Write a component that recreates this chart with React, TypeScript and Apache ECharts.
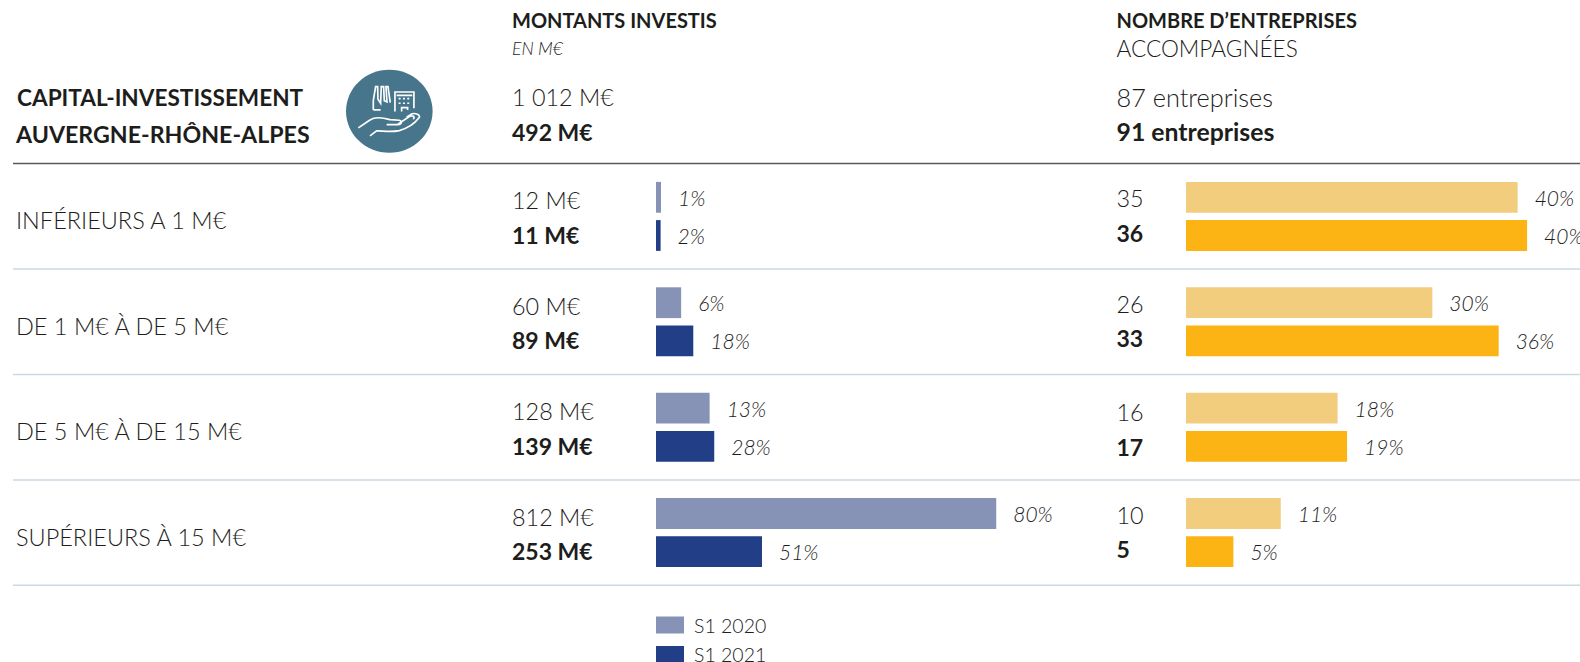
import React, { useEffect, useRef } from "react";
import * as echarts from "echarts";

const categories = ["INFÉRIEURS A 1 M€", "DE 1 M€ À DE 5 M€", "DE 5 M€ À DE 15 M€", "SUPÉRIEURS À 15 M€"];
const seriesNames = ["S1 2020", "S1 2021"];
const amount2020 = [12, 60, 128, 812];
const amount2021 = [11, 89, 139, 253];
const amountPct2020 = ["1%", "6%", "13%", "80%"];
const amountPct2021 = ["2%", "18%", "28%", "51%"];
const count2020 = [35, 26, 16, 10];
const count2021 = [36, 33, 17, 5];
const countPct2020 = ["40%", "30%", "18%", "11%"];
const countPct2021 = ["40%", "36%", "19%", "5%"];
const amountTexts2020 = ["12 M€", "60 M€", "128 M€", "812 M€"];
const amountTexts2021 = ["11 M€", "89 M€", "139 M€", "253 M€"];

const FONT = "Lato";
const DARK = "#1d1d1b";
const C = { a0: "#8693b6", a1: "#213e86", b0: "#f1cd7d", b1: "#fbb413" };

const ROW_TOP = 163.7;
const ROW_H = 105.4;
const rowMid = (i: number) => ROW_TOP + ROW_H * (i + 0.5);
const countNudge = [-1, -1, 2, -1];

const iconPath =
  "M100 150 L100 122 L107 80 L113 80 L114 118 L122 130 L124 80 L131 80 L133 122 L141 126 L138 80 L144 80 L151 128 " +
  "M100 150 L122 150 M165 155 L165 96 L222 96 L222 145 M170 106 L217 106 " +
  "M176 116 L182 116 M189 116 L195 116 M202 116 L208 116 M176 130 L182 130 M189 130 L195 130 M202 130 L208 130 " +
  "M185 155 L185 143 L203 143 L203 150 " +
  "M55 204 L90 180 C105 170 125 172 150 179 L178 181 C188 183 186 195 172 194 L140 194 " +
  "M172 194 L205 172 C215 165 228 168 220 178 M200 172 L215 162 C225 158 243 165 238 173 C225 190 205 205 178 212 C150 218 125 212 110 213 L90 228";

function text(x: number, y: number, t: string, size: number, o: any = {}) {
  return {
    type: "text",
    x,
    y,
    silent: true,
    style: {
      text: t,
      fontFamily: FONT,
      fontSize: size,
      fontWeight: o.bold ? 700 : 300,
      fontStyle: o.italic ? "italic" : "normal",
      fill: DARK,
      align: "left",
      verticalAlign: "middle",
    },
  };
}

const barSeries = (name: string, axis: number, values: number[], pct: string[], color: string) => ({
  type: "bar",
  name,
  xAxisIndex: axis,
  yAxisIndex: axis,
  data: values,
  barWidth: 30.8,
  barGap: "24%",
  itemStyle: { color },
  label: {
    show: true,
    position: "right",
    distance: 17,
    formatter: (p: any) => pct[p.dataIndex],
    fontFamily: FONT,
    fontSize: 21,
    fontWeight: 300,
    fontStyle: "italic",
    color: DARK,
  },
});

const legendFor = (name: string, top: number) => ({
  data: [{ name, icon: "rect" }],
  orient: "vertical",
  left: 656,
  top,
  padding: 0,
  itemWidth: 28,
  itemHeight: 17,
  selectedMode: false,
  textStyle: { fontFamily: FONT, fontSize: 19.5, lineHeight: 17, fontWeight: 300, color: DARK, padding: [0, 0, 0, 5] },
});

const valueAxis = (grid: number, max: number) => ({ type: "value", gridIndex: grid, min: 0, max, show: false });
const catAxis = (grid: number, show: boolean) => ({
  type: "category",
  gridIndex: grid,
  data: categories,
  inverse: true,
  axisLine: { show: false },
  axisTick: { show: false },
  splitLine: { show: false },
  axisLabel: show
    ? { show: true, margin: 640, align: "left", verticalAlign: "top", lineHeight: 8, fontFamily: FONT, fontWeight: 300, fontSize: 23.5, color: DARK }
    : { show: false },
});

export default function App() {
  const ref = useRef<HTMLDivElement>(null);
  useEffect(() => {
    echarts.graphic.registerShape("capitalIcon", echarts.graphic.extendPath(iconPath, {}));
    const chart = echarts.init(ref.current!, null, { renderer: "svg" });
    const elements: any[] = [
      { type: "line", shape: { x1: 13, y1: 163.5, x2: 1580, y2: 163.5 }, style: { stroke: "#58585a", lineWidth: 1.5 } },
      ...categories.map((_, i) => ({
        type: "line",
        shape: { x1: 13, y1: ROW_TOP + ROW_H * (i + 1), x2: 1580, y2: ROW_TOP + ROW_H * (i + 1) },
        style: { stroke: "#cbd9e2", lineWidth: 1.5 },
      })),
      { type: "ellipse", shape: { cx: 389.3, cy: 111.3, rx: 43.3, ry: 41.5 }, style: { fill: "#47768c" } },
      { type: "capitalIcon", x: 340, y: 60, scaleX: 1 / 3, scaleY: 1 / 3, style: { fill: "none", stroke: "#fff", lineWidth: 5 } },
      text(17, 97, "CAPITAL-INVESTISSEMENT", 22.6, { bold: true }),
      text(16, 134, "AUVERGNE-RHÔNE-ALPES", 23.2, { bold: true }),
      text(512, 20, "MONTANTS INVESTIS", 20, { bold: true }),
      text(512, 48.5, "EN M€", 17.5, { italic: true }),
      text(512, 97, "1 012 M€", 23.4),
      text(512, 131.5, "492 M€", 23, { bold: true }),
      text(1116.5, 20, "NOMBRE D’ENTREPRISES", 20, { bold: true }),
      text(1116.5, 48.5, "ACCOMPAGNÉES", 22.6),
      text(1116.5, 97, "87 entreprises", 25.3),
      text(1116.5, 131.5, "91 entreprises", 24.8, { bold: true }),
    ];
    categories.forEach((_, i) => {
      elements.push(text(512, rowMid(i) - 16, amountTexts2020[i], 23.4));
      elements.push(text(512, rowMid(i) + 18.5, amountTexts2021[i], 23, { bold: true }));
      elements.push(text(1116.5, rowMid(i) - 17 + countNudge[i], String(count2020[i]), 23.4));
      elements.push(text(1116.5, rowMid(i) + 17.5 + countNudge[i], String(count2021[i]), 23, { bold: true }));
    });
    chart.setOption({
      animation: false,
      backgroundColor: "#fff",
      grid: [
        { left: 656, top: ROW_TOP, width: 419, height: ROW_H * 4 },
        { left: 1186, top: ROW_TOP, width: 379, height: ROW_H * 4 },
      ],
      xAxis: [valueAxis(0, 1000), valueAxis(1, 40)],
      yAxis: [catAxis(0, true), catAxis(1, false)],
      legend: [legendFor(seriesNames[0], 615), legendFor(seriesNames[1], 644.5)],
      series: [
        barSeries(seriesNames[0], 0, amount2020, amountPct2020, C.a0),
        barSeries(seriesNames[1], 0, amount2021, amountPct2021, C.a1),
        barSeries(seriesNames[0], 1, count2020, countPct2020, C.b0),
        barSeries(seriesNames[1], 1, count2021, countPct2021, C.b1),
      ],
      graphic: { elements },
    });
    return () => chart.dispose();
  }, []);
  return <div ref={ref} style={{ position: "absolute", left: 0, top: 0, width: 1580, height: 662 }} />;
}
